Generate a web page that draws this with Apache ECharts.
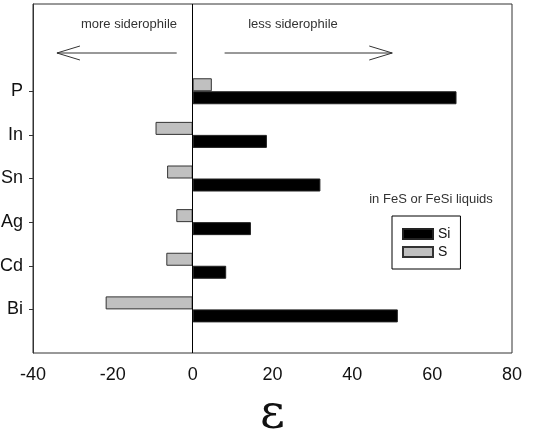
<!DOCTYPE html>
<html>
<head>
<meta charset="utf-8">
<script src="https://cdn.jsdelivr.net/npm/echarts@6/dist/echarts.min.js"></script>
<style>
    html, body { margin: 0; padding: 0; background: #fff; }
    #chartDiv { width: 543px; height: 434px; }
</style>
</head>
<body>
<div id="chartDiv"></div>
<script>
    // elements, top to bottom
    var elements = ['P', 'In', 'Sn', 'Ag', 'Cd', 'Bi'];
    // epsilon interaction parameter with Si and with S
    var siValues = [66.1, 18.6, 32.0, 14.6, 8.4, 51.4];
    var sValues = [4.8, -9.3, -6.4, -4.1, -6.6, -21.8];
    var xTicks = [-40, -20, 0, 20, 40, 60, 80];

    // two empty rows on top for the arrows, one at the bottom
    function pad(arr, empty) {
        return [empty, empty].concat(arr, [empty]);
    }
    var yData = pad(elements, '');
    var font = "'Liberation Sans', Arial, sans-serif";
    var notEmpty = function (idx, val) { return val !== ''; };

    var chart = echarts.init(document.getElementById('chartDiv'));
    chart.setOption({
        animation: false,
        textStyle: { fontFamily: font },
        grid: {
            left: 33, right: 31, top: 4, bottom: 81,
            outerBoundsMode: 'none',
            containLabel: false,
            show: true, borderColor: '#333', borderWidth: 1
        },
        legend: {
            orient: 'vertical',
            left: 392, top: 216,
            data: ['Si', 'S'],
            icon: 'rect',
            itemWidth: 30, itemHeight: 10, itemGap: 4,
            padding: [11, 10, 10, 10],
            borderColor: '#000', borderWidth: 1,
            textStyle: { fontSize: 14, color: '#111', fontFamily: font }
        },
        xAxis: {
            type: 'value',
            min: xTicks[0], max: xTicks[xTicks.length - 1], interval: 20,
            splitLine: { show: false },
            axisLine: { onZero: false, lineStyle: { color: '#333' } },
            axisTick: { length: 4, lineStyle: { color: '#333' } },
            axisLabel: { fontSize: 18, color: '#111', margin: 13, fontFamily: font },
            name: 'ε',
            nameLocation: 'middle',
            nameGap: 39,
            nameTextStyle: { fontSize: 48, color: '#111', fontFamily: "'DejaVu Serif', serif" }
        },
        yAxis: {
            type: 'category',
            inverse: true,
            boundaryGap: false,
            data: yData,
            axisLine: { onZero: false, lineStyle: { color: '#333' } },
            axisTick: { length: 4, interval: notEmpty, lineStyle: { color: '#333' } },
            axisLabel: { fontSize: 18, color: '#111', margin: 10, interval: notEmpty, fontFamily: font },
            splitLine: { show: false }
        },
        series: [
            {
                name: 'S', type: 'bar',
                data: pad(sValues, '-'),
                barWidth: 13, barGap: '0%',
                itemStyle: { color: '#c0c0c0', borderColor: '#333', borderWidth: 1 },
                markLine: {
                    silent: true, symbol: 'none',
                    label: { show: false },
                    lineStyle: { color: '#000', width: 1, type: 'solid' },
                    data: [{ xAxis: 0 }]
                }
            },
            {
                name: 'Si', type: 'bar',
                data: pad(siValues, '-'),
                barWidth: 13, barGap: '0%',
                itemStyle: { color: '#000', borderColor: '#222', borderWidth: 1 }
            }
        ]
    });

    // arrows and notes, placed from the x scale
    var arrowY = 53;
    function px(v) { return chart.convertToPixel({ xAxisIndex: 0 }, v); }
    function arrow(from, to) {
        var x0 = px(from), x1 = px(to);
        var d = x1 > x0 ? -23 : 23;
        return [
            { type: 'line', shape: { x1: x0, y1: arrowY, x2: x1, y2: arrowY },
              style: { stroke: '#333', lineWidth: 1 } },
            { type: 'polyline', shape: { points: [[x1 + d, arrowY - 7], [x1, arrowY], [x1 + d, arrowY + 7]] },
              style: { stroke: '#333', lineWidth: 1, fill: null } }
        ];
    }
    function note(text, x, y) {
        return { type: 'text', x: x, y: y,
                 style: { text: text, fontSize: 13, fill: '#333', fontFamily: font,
                          align: 'center', verticalAlign: 'middle' } };
    }
    chart.setOption({
        graphic: arrow(-4, -34).concat(arrow(8, 50), [
            note('more siderophile', 129, 24),
            note('less siderophile', 293, 24),
            note('in FeS or FeSi liquids', 431, 199)
        ])
    });
</script>
</body>
</html>
